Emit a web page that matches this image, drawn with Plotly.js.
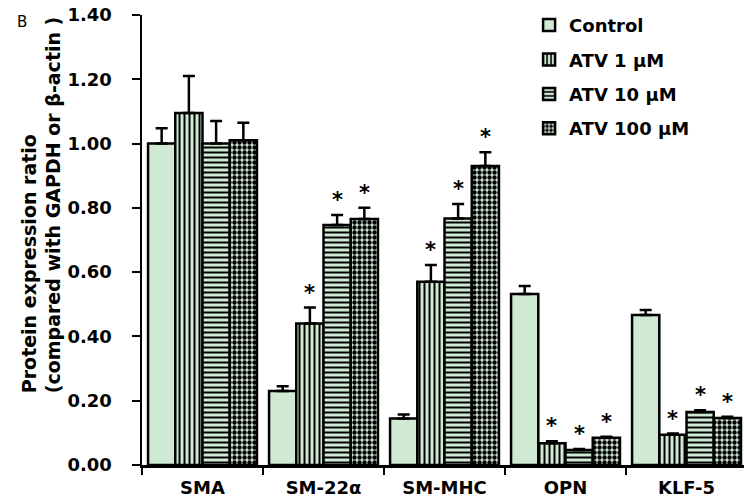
<!DOCTYPE html>
<html>
<head>
<meta charset="utf-8">
<script src="https://cdn.plot.ly/plotly-3.0.1.min.js"></script>
<style>html,body{margin:0;padding:0;background:#fff;}#chart{width:744px;height:501px;}</style>
</head>
<body>
<div id="chart"></div>
<script>
const categories = ['SMA', 'SM-22α', 'SM-MHC', 'OPN', 'KLF-5'];
const seriesNames = ['Control', 'ATV 1 μM', 'ATV 10 μM', 'ATV 100 μM'];
const control     = [1.00, 0.23, 0.145, 0.532, 0.467];
const controlErr  = [0.048, 0.015, 0.012, 0.025, 0.015];
const atv1        = [1.095, 0.44, 0.57, 0.068, 0.094];
const atv1Err     = [0.115, 0.05, 0.052, 0.006, 0.004];
const atv10       = [1.00, 0.747, 0.767, 0.047, 0.165];
const atv10Err    = [0.07, 0.031, 0.045, 0.003, 0.005];
const atv100      = [1.01, 0.765, 0.93, 0.085, 0.146];
const atv100Err   = [0.055, 0.035, 0.043, 0.003, 0.004];
const controlSig  = [false, false, false, false, false];
const atv1Sig     = [false, true, true, true, true];
const atv10Sig    = [false, true, true, true, true];
const atv100Sig   = [false, true, true, true, true];
const yTickVals   = [0, 0.2, 0.4, 0.6, 0.8, 1.0, 1.2, 1.4];

const values = [control, atv1, atv10, atv100];
const errs = [controlErr, atv1Err, atv10Err, atv100Err];
const sigs = [controlSig, atv1Sig, atv10Sig, atv100Sig];
const patterns = ['', '|', '-', '.'];
const patSize = [8, 5, 5, 5];
const patSolid = [0.3, 0.4, 0.4, 0.6];
const FILL = '#cfe9d3';
const FONT = 'DejaVu Sans, sans-serif';
const bargap = 0.1;

const traces = values.map((v, i) => ({
  type: 'bar',
  name: seriesNames[i],
  x: categories,
  y: v,
  legendgroup: 'g' + i,
  marker: {
    color: FILL,
    line: {color: '#000', width: 2.5},
    pattern: {shape: patterns[i], fgcolor: '#000', bgcolor: FILL, fgopacity: 1, size: patSize[i], solidity: patSolid[i], fillmode: 'replace'}
  },
  error_y: {type: 'data', array: errs[i], arrayminus: errs[i].map(() => 0), symmetric: false, color: '#000', thickness: 2.5, width: 6},
  hoverinfo: 'skip'
}));

const barW = (1 - bargap) / 4;
const annotations = [];
sigs.forEach((s, i) => {
  s.forEach((flag, c) => {
    if (!flag) return;
    annotations.push({
      x: c + (i - 1.5) * barW,
      y: values[i][c] + errs[i][c],
      xref: 'x', yref: 'y',
      text: '*', showarrow: false,
      yanchor: 'bottom', yshift: 1,
      font: {family: FONT, size: 21, color: '#000', weight: 'bold'}
    });
  });
});
annotations.push({
  xref: 'paper', yref: 'paper', x: -0.167, y: 0.155,
  xanchor: 'center', yanchor: 'bottom', textangle: -90, align: 'left',
  text: '<b>Protein expression ratio</b><br><b>(compared with GAPDH or β-actin )</b>',
  showarrow: false,
  font: {family: FONT, size: 19, color: '#000'}
});
annotations.push({
  xref: 'paper', yref: 'paper', x: -0.2, y: 0.985,
  xanchor: 'center', yanchor: 'middle',
  text: 'B', showarrow: false,
  font: {family: FONT, size: 15, color: '#000'}
});

const layout = {
  width: 744, height: 501,
  margin: {l: 142, r: 0, t: 15, b: 36},
  paper_bgcolor: '#fff', plot_bgcolor: '#fff',
  barmode: 'group', bargap: bargap, bargroupgap: 0,
  showlegend: true,
  legend: {x: 0.643, y: 1.018, xanchor: 'left', yanchor: 'top', tracegroupgap: 8,
    font: {family: FONT, size: 18, color: '#000', weight: 'bold'}, bgcolor: 'rgba(0,0,0,0)'},
  font: {family: FONT, color: '#000'},
  xaxis: {
    type: 'category', range: [-0.5, 4.475],
    showline: true, linecolor: '#000', linewidth: 2.5,
    ticks: 'outside', tickson: 'boundaries', ticklen: 7, tickwidth: 2, tickcolor: '#000',
    ticklabelstandoff: 5,
    showgrid: false, zeroline: false, fixedrange: true,
    tickfont: {family: FONT, size: 18, color: '#000', weight: 'bold'}
  },
  yaxis: {
    range: [0, 1.4], tickvals: yTickVals, tickformat: '.2f',
    showline: true, linecolor: '#000', linewidth: 2.5,
    ticks: 'outside', ticklen: 8, tickwidth: 2, tickcolor: '#000', ticklabelstandoff: 16,
    showgrid: false, zeroline: false, fixedrange: true,
    tickfont: {family: FONT, size: 18, color: '#000', weight: 'bold'}
  },
  annotations: annotations
};

Plotly.newPlot('chart', traces, layout, {displayModeBar: false, staticPlot: true});
</script>
</body>
</html>
